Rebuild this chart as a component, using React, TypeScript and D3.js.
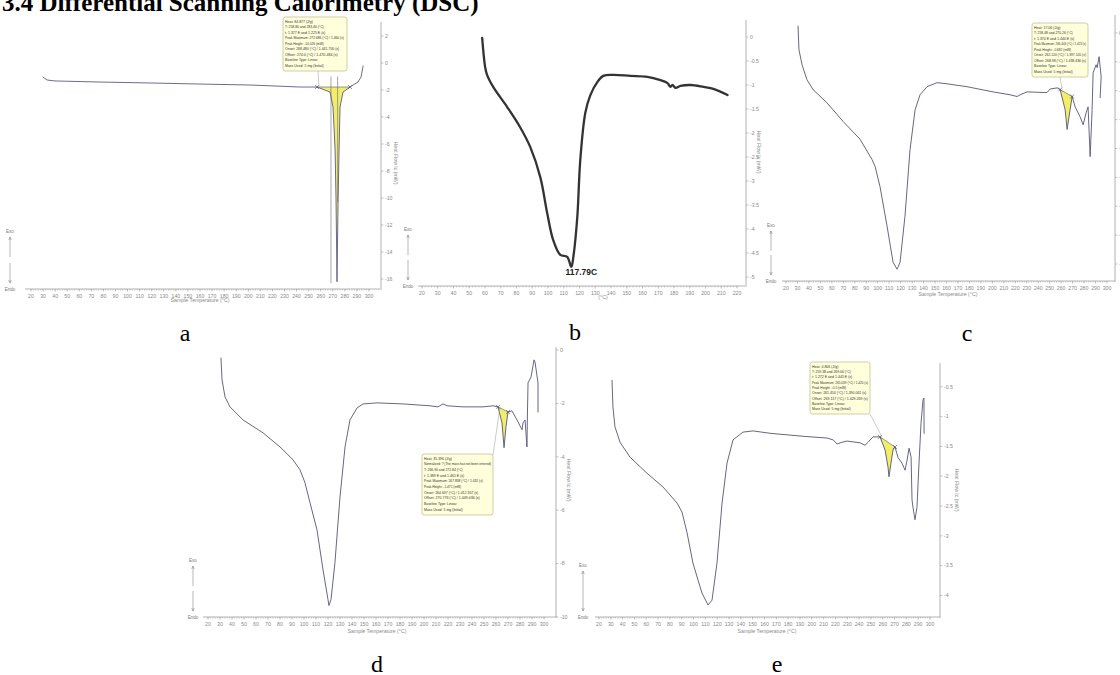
import React from 'react';
import * as d3 from 'd3';

// ---------- tick labels ----------
const xTicks300 = [20, 30, 40, 50, 60, 70, 80, 90, 100, 110, 120, 130, 140, 150, 160, 170, 180, 190, 200, 210, 220, 230, 240, 250, 260, 270, 280, 290, 300];
const xTicks220 = [20, 30, 40, 50, 60, 70, 80, 90, 100, 110, 120, 130, 140, 150, 160, 170, 180, 190, 200, 210, 220];
const yTicksA = [2, 0, -2, -4, -6, -8, -10, -12, -14, -16];
const yTicksB = [0, -0.5, -1, -1.5, -2, -2.5, -3, -3.5, -4, -4.5, -5];
const yTicksC = [0, -0.5, -1, -1.5, -2, -2.5, -3, -3.5, -4];
const yTicksD = [0, -2, -4, -6, -8, -10];
const yTicksE = [-0.5, -1, -1.5, -2, -2.5, -3, -3.5, -4];

// ---------- series (temperature °C, heat flow mW) ----------
const tempA = [29.9, 33.3, 39.9, 77.2, 118.6, 160.0, 201.4, 242.9, 256.9, 267.7, 270.2, 271.9, 272.7, 273.5, 274.4, 275.2, 276.0, 278.5, 284.3, 286.8, 290.9, 293.4, 295.1];
const heatA = [-1.04, -1.26, -1.33, -1.41, -1.48, -1.56, -1.63, -1.78, -1.78, -2.15, -3.26, -6.44, -10.15, -16.2, -10.15, -6.44, -3.26, -2.15, -1.78, -1.63, -1.41, -1.04, -0.22];

const tempB = [58.2, 60.1, 61.3, 65.2, 74.1, 82.3, 88.7, 95.1, 99.5, 103.3, 107.8, 112.2, 114.8, 116.1, 118.6, 120.5, 123.7, 126.9, 131.3, 135.1, 141.5, 152.3, 163.1, 171.4, 175.9, 177.8, 179.0, 181.0, 184.1, 190.5, 198.8, 205.1, 214.0];
const heatB = [-0.02, -0.63, -0.79, -1.04, -1.46, -1.88, -2.29, -2.92, -3.67, -4.23, -4.54, -4.58, -4.79, -4.58, -3.75, -2.56, -1.58, -1.21, -0.94, -0.81, -0.79, -0.81, -0.83, -0.90, -0.96, -1.04, -1.00, -1.06, -1.02, -1.00, -1.04, -1.08, -1.21];

const tempC = [30.5, 31.3, 34.0, 38.3, 43.6, 55.8, 69.7, 84.6, 95.0, 97.7, 102.0, 108.1, 113.4, 116.9, 119.5, 123.8, 128.2, 132.6, 136.9, 143.0, 151.8, 160.5, 177.9, 200.6, 215.5, 221.6, 224.2, 230.3, 244.3, 247.7, 250.4, 256.5, 259.1, 263.5, 265.2, 267.8, 269.6, 272.2, 276.5, 279.2, 281.8, 283.5, 285.3, 287.0, 287.9, 290.5, 291.4, 293.1, 294.9, 294.0];
const heatC = [0.12, -0.29, -0.55, -0.81, -0.98, -1.21, -1.53, -1.84, -2.19, -2.31, -2.66, -3.34, -3.97, -4.09, -3.97, -3.17, -2.02, -1.33, -1.07, -0.93, -0.86, -0.88, -0.93, -1.02, -1.07, -1.10, -1.07, -1.02, -1.03, -1.03, -0.97, -0.95, -0.98, -1.33, -1.67, -1.33, -1.10, -1.28, -1.45, -1.59, -1.38, -1.28, -2.14, -1.33, -0.69, -0.55, -0.60, -0.41, -0.76, -1.12];

const tempD = [30.8, 31.7, 34.2, 38.3, 49.2, 65.8, 80.0, 90.8, 96.7, 100.8, 105.0, 110.8, 115.8, 120.0, 120.8, 122.5, 125.8, 130.0, 134.2, 138.3, 144.2, 149.2, 160.8, 182.5, 205.0, 211.7, 215.8, 219.2, 232.5, 249.2, 257.5, 261.7, 265.0, 266.7, 268.3, 270.0, 273.3, 277.5, 281.7, 282.5, 284.2, 285.8, 286.2, 286.7, 289.2, 291.7, 292.5, 295.0, 295.0];
const heatD = [-0.30, -1.12, -1.76, -2.13, -2.62, -3.10, -3.63, -4.11, -4.49, -4.97, -5.72, -6.73, -8.22, -9.35, -9.57, -9.35, -7.96, -5.50, -3.63, -2.62, -2.17, -2.02, -1.98, -2.02, -2.09, -2.13, -2.02, -2.09, -2.13, -2.13, -2.09, -2.13, -2.73, -3.66, -2.88, -2.32, -2.28, -2.62, -2.99, -2.73, -2.62, -3.63, -2.36, -1.23, -1.01, -0.37, -0.45, -1.23, -2.32];

const tempE = [31.0, 31.8, 33.5, 37.8, 46.2, 60.6, 74.1, 86.0, 90.2, 94.5, 99.5, 107.1, 112.2, 115.6, 119.8, 124.1, 128.3, 133.4, 141.8, 150.3, 164.7, 192.6, 212.9, 218.0, 221.4, 225.6, 229.8, 240.8, 245.0, 247.6, 251.8, 257.7, 262.0, 264.5, 265.3, 267.0, 268.7, 270.4, 273.0, 276.3, 278.9, 280.6, 282.3, 284.0, 284.8, 285.6, 287.3, 289.0, 290.7, 292.4, 294.1, 294.9, 295.0];
const heatE = [-0.39, -0.84, -1.17, -1.43, -1.68, -1.95, -2.18, -2.45, -2.60, -2.95, -3.46, -3.96, -4.16, -4.08, -3.46, -2.45, -1.78, -1.39, -1.26, -1.24, -1.28, -1.33, -1.36, -1.39, -1.46, -1.43, -1.41, -1.44, -1.48, -1.43, -1.34, -1.34, -1.56, -1.85, -2.01, -1.78, -1.56, -1.51, -1.69, -1.78, -1.90, -1.73, -1.53, -1.68, -2.40, -2.52, -2.73, -2.52, -1.78, -1.11, -0.72, -0.69, -1.28];

// ---------- integration windows and annotation texts ----------
const fillA: [number, number] = [256.9, 284.3];
const fillC: [number, number] = [259.1, 269.6];
const fillD: [number, number] = [261.7, 270.0];
const fillE: [number, number] = [257.7, 270.4];

const infoA = ['Heat: 84.877 (J/g)', 'T: 258.80 and 283.40 (°C)', 't: 1.377 E and 1.225 E (s)', 'Peak Maximum: 272.686 (°C) / 1.460 (s)', 'Peak Height: -14.026 (mW)', 'Onset: 268.480 (°C) / 1.441.700 (s)', 'Offset: 274.0 (°C) / 1.470.484 (s)', 'Baseline Type: Linear', 'Mass Used: 5 mg (Initial)'];
const infoC = ['Heat: 17.06 (J/g)', 'T: 258.48 and 270.26 (°C)', 't: 1.374 E and 1.440 E (s)', 'Peak Maximum: 266.403 (°C) / 1.423 (s)', 'Peak Height: -0.681 (mW)', 'Onset: 262.120 (°C) / 1.397.105 (s)', 'Offset: 268.98 (°C) / 1.438.436 (s)', 'Baseline Type: Linear', 'Mass Used: 5 mg (Initial)'];
const infoD = ['Heat: 35.396 (J/g)', 'Normalized: ? (The mass has not been entered)', 'T: 266.90 and 272.84 (°C)', 't: 1.389 E and 1.461 E (s)', 'Peak Maximum: 267.838 (°C) / 1.431 (s)', 'Peak Height: -1.471 (mW)', 'Onset: 264.637 (°C) / 1.412.357 (s)', 'Offset: 270.776 (°C) / 1.449.036 (s)', 'Baseline Type: Linear', 'Mass Used: 5 mg (Initial)'];
const infoE = ['Heat: 4.806 (J/g)', 'T: 259.38 and 269.06 (°C)', 't: 1.272 E and 1.445 E (s)', 'Peak Maximum: 265.039 (°C) / 1.420 (s)', 'Peak Height: -0.5 (mW)', 'Onset: 261.454 (°C) / 1.390.061 (s)', 'Offset: 269.117 (°C) / 1.429.269 (s)', 'Baseline Type: Linear', 'Mass Used: 5 mg (Initial)'];

type Cfg = {
  temp: number[]; heat: number[];
  xTicks: number[]; yTicks: number[];
  xDomain: [number, number]; xRange: [number, number];
  yDomain: [number, number]; yRange: [number, number];
  axisY: number; axisX: [number, number];
  rightX: number; rightY: [number, number];
  yTitle: [number, number];
  xTitle: string; xTitlePos: [number, number];
  exoX: number; exoTop: number;
  fill?: [number, number];
  info?: string[]; box?: [number, number, number, number]; leaderFrom?: [number, number];
  vlines?: { t: number; v0: number; v1: number }[];
  stroke: string; strokeWidth: number; smooth?: boolean;
  peakLabel?: string;
  label: string; labelPos: [number, number];
};

function interp(temp: number[], heat: number[], t: number) {
  for (let i = 0; i < temp.length - 1; i++) {
    const a = temp[i], b = temp[i + 1];
    if ((t >= a && t <= b) || (t <= a && t >= b)) {
      if (b === a) return heat[i];
      return heat[i] + ((heat[i + 1] - heat[i]) * (t - a)) / (b - a);
    }
  }
  return heat[heat.length - 1];
}

const axisCol = '#a0a0a0';
const tickTxt = '#8a8a8a';
const sans = 'Liberation Sans, Arial, sans-serif';

function Panel({ c }: { c: Cfg }) {
  const x = d3.scaleLinear().domain(c.xDomain).range(c.xRange);
  const y = d3.scaleLinear().domain(c.yDomain).range(c.yRange);
  const pts: [number, number][] = c.temp.map((t, i) => [t, c.heat[i]]);
  const line = d3.line<[number, number]>().x(d => x(d[0])).y(d => y(d[1]));
  if (c.smooth) line.curve(d3.curveCatmullRom.alpha(0.5));
  const minor = d3.range(c.xDomain[0], c.xDomain[1] + 0.01, 2);

  let fillPath: string | null = null;
  let endPts: [number, number][] = [];
  if (c.fill) {
    const [t1, t2] = c.fill;
    const h1 = interp(c.temp, c.heat, t1);
    const h2 = interp(c.temp, c.heat, t2);
    const base = (t: number) => h1 + ((h2 - h1) * (t - t1)) / (t2 - t1);
    const inner = pts.filter(p => p[0] > t1 && p[0] < t2);
    const fp: [number, number][] = [[t1, h1], ...inner, [t2, h2]];
    const area = d3.area<[number, number]>()
      .x(d => x(d[0]))
      .y0(d => y(base(d[0])))
      .y1(d => y(Math.min(d[1], base(d[0]))));
    fillPath = area(fp);
    endPts = [[t1, h1], [t2, h2]];
  }

  // minimum of the series for the peak label
  let minIdx = 0;
  c.heat.forEach((h, i) => { if (h < c.heat[minIdx]) minIdx = i; });

  const arrowTopY = c.exoTop + 4;
  return (
    <g>
      {/* x axis */}
      <line x1={c.axisX[0]} x2={c.axisX[1]} y1={c.axisY} y2={c.axisY} stroke={axisCol} strokeWidth={0.8} />
      {minor.map(t => (
        <line key={'m' + t} x1={x(t)} x2={x(t)} y1={c.axisY} y2={c.axisY + 1.5} stroke={axisCol} strokeWidth={0.5} />
      ))}
      {c.xTicks.map(t => (
        <g key={'xt' + t}>
          <line x1={x(t)} x2={x(t)} y1={c.axisY} y2={c.axisY + 2.5} stroke={axisCol} strokeWidth={0.6} />
          <text x={x(t)} y={c.axisY + 8.5} fontSize={5.2} fill={tickTxt} textAnchor="middle" fontFamily={sans}>{t}</text>
        </g>
      ))}
      <text x={c.xTitlePos[0]} y={c.xTitlePos[1]} fontSize={5.2} fill={tickTxt} textAnchor="middle" fontFamily={sans}>{c.xTitle}</text>

      {/* right axis */}
      <line x1={c.rightX} x2={c.rightX} y1={c.rightY[0]} y2={c.rightY[1]} stroke={axisCol} strokeWidth={0.8} />
      {c.yTicks.map(v => (
        <g key={'yt' + v}>
          <line x1={c.rightX} x2={c.rightX + 2.5} y1={y(v)} y2={y(v)} stroke={axisCol} strokeWidth={0.6} />
          <text x={c.rightX + 4} y={y(v) + 1.8} fontSize={5.2} fill={tickTxt} fontFamily={sans}>{String(v)}</text>
        </g>
      ))}
      <text transform={`translate(${c.yTitle[0]},${c.yTitle[1]}) rotate(90)`} fontSize={5.2} fill={tickTxt} textAnchor="middle" fontFamily={sans}>Heat Flow Ic (mW)</text>

      {/* Exo / Endo */}
      <text x={c.exoX} y={c.exoTop} fontSize={4.5} fill="#777" textAnchor="middle" fontFamily={sans}>Exo</text>
      <line x1={c.exoX} x2={c.exoX} y1={arrowTopY} y2={arrowTopY + 20} stroke="#888" strokeWidth={0.6} />
      <path d={`M${c.exoX - 1.3},${arrowTopY + 3} L${c.exoX},${arrowTopY} L${c.exoX + 1.3},${arrowTopY + 3}`} fill="none" stroke="#888" strokeWidth={0.6} />
      <line x1={c.exoX} x2={c.exoX} y1={c.axisY - 26} y2={c.axisY - 6} stroke="#888" strokeWidth={0.6} />
      <path d={`M${c.exoX - 1.3},${c.axisY - 9} L${c.exoX},${c.axisY - 6} L${c.exoX + 1.3},${c.axisY - 9}`} fill="none" stroke="#888" strokeWidth={0.6} />
      <text x={c.exoX} y={c.axisY + 1.5} fontSize={4.5} fill="#777" textAnchor="middle" fontFamily={sans}>Endo</text>

      {/* integration fill */}
      {fillPath && <path d={fillPath} fill="#f2ee6a" stroke="none" />}
      {fillPath && <line x1={x(endPts[0][0])} y1={y(endPts[0][1])} x2={x(endPts[1][0])} y2={y(endPts[1][1])} stroke="#556" strokeWidth={0.6} />}

      {c.vlines && c.vlines.map((v, i) => (
        <line key={'v' + i} x1={x(v.t)} x2={x(v.t)} y1={y(v.v0)} y2={y(v.v1)} stroke="#667" strokeWidth={0.6} />
      ))}

      {/* curve */}
      <path d={line(pts) || ''} fill="none" stroke={c.stroke} strokeWidth={c.strokeWidth} strokeLinejoin="round" strokeLinecap="round" />

      {c.peakLabel && (
        <text x={x(c.temp[minIdx]) + 10} y={y(c.heat[minIdx]) + 8} fontSize={8.5} fontWeight="bold" fill="#222" textAnchor="middle" fontFamily={sans}>{c.peakLabel}</text>
      )}

      {endPts.map((p, i) => (
        <path key={'x' + i} d={`M${x(p[0]) - 2},${y(p[1]) - 2} L${x(p[0]) + 2},${y(p[1]) + 2} M${x(p[0]) - 2},${y(p[1]) + 2} L${x(p[0]) + 2},${y(p[1]) - 2}`} stroke="#444" strokeWidth={0.6} />
      ))}

      {/* info box */}
      {c.info && c.box && (
        <g>
          {c.leaderFrom && endPts.length > 0 && (
            <line x1={c.leaderFrom[0]} y1={c.leaderFrom[1]} x2={x(endPts[0][0]) + 2} y2={y(endPts[0][1])} stroke="#999" strokeWidth={0.5} />
          )}
          <rect x={c.box[0]} y={c.box[1]} width={c.box[2]} height={c.box[3]} rx={2.5} fill="#ffffdc" stroke="#b9b98a" strokeWidth={0.7} />
          {c.info.map((s, i) => (
            <text key={'i' + i} x={c.box[0] + 2} y={c.box[1] + 5.5 + i * ((c.box![3] - 4) / c.info!.length)} fontSize={3.4} fill="#333" fontFamily={sans}
              textLength={Math.min(s.length * 1.55, c.box![2] - 4)} lengthAdjust="spacingAndGlyphs">{s}</text>
          ))}
        </g>
      )}

      {/* panel letter */}
      <text x={c.labelPos[0]} y={c.labelPos[1]} fontSize={24} fill="#000" textAnchor="middle" fontFamily="Liberation Serif, Times New Roman, serif">{c.label}</text>
    </g>
  );
}

const panels: Cfg[] = [
  {
    temp: tempA, heat: heatA, xTicks: xTicks300, yTicks: yTicksA,
    xDomain: [20, 300], xRange: [31, 369], yDomain: [2, -16], yRange: [36, 279],
    axisY: 289, axisX: [25, 380], rightX: 381, rightY: [22, 290], yTitle: [394, 163],
    xTitle: 'Sample Temperature (°C)', xTitlePos: [200, 302], exoX: 10, exoTop: 233,
    fill: fillA, info: infoA, box: [283, 17, 64, 54], leaderFrom: [318, 71],
    vlines: [{ t: 268.5, v0: -1.0, v1: -16.3 }, { t: 274.0, v0: -1.0, v1: -10.3 }],
    stroke: '#5a5a8c', strokeWidth: 0.9, label: 'a', labelPos: [185, 341],
  },
  {
    temp: tempB, heat: heatB, xTicks: xTicks220, yTicks: yTicksB,
    xDomain: [20, 220], xRange: [422, 737], yDomain: [0, -5], yRange: [37, 277],
    axisY: 286, axisX: [418, 745], rightX: 746, rightY: [20, 287], yTitle: [757, 152],
    xTitle: '(°C)', xTitlePos: [603, 299], exoX: 408, exoTop: 231,
    stroke: '#333333', strokeWidth: 2.3, smooth: true, peakLabel: '117.79C', label: 'b', labelPos: [575, 340],
  },
  {
    temp: tempC, heat: heatC, xTicks: xTicks300, yTicks: yTicksC,
    xDomain: [20, 300], xRange: [786, 1107], yDomain: [0, -4], yRange: [33, 264],
    axisY: 281, axisX: [782, 1115], rightX: 1115, rightY: [15, 282], yTitle: [1140, 150],
    xTitle: 'Sample Temperature (°C)', xTitlePos: [948, 296], exoX: 771, exoTop: 227,
    fill: fillC, info: infoC, box: [1032, 23, 56, 54], leaderFrom: [1060, 77],
    stroke: '#55557a', strokeWidth: 0.9, label: 'c', labelPos: [967, 341],
  },
  {
    temp: tempD, heat: heatD, xTicks: xTicks300, yTicks: yTicksD,
    xDomain: [20, 300], xRange: [208, 544], yDomain: [0, -10], yRange: [350, 617],
    axisY: 617, axisX: [203, 556], rightX: 556, rightY: [347, 618], yTitle: [567, 480],
    xTitle: 'Sample Temperature (°C)', xTitlePos: [377, 633], exoX: 193, exoTop: 562,
    fill: fillD, info: infoD, box: [422, 454, 71, 61], leaderFrom: [493, 455],
    stroke: '#55557a', strokeWidth: 0.9, label: 'd', labelPos: [377, 672],
  },
  {
    temp: tempE, heat: heatE, xTicks: xTicks300, yTicks: yTicksE,
    xDomain: [20, 300], xRange: [599, 930], yDomain: [0, -4], yRange: [357, 595.4],
    axisY: 617, axisX: [595, 940], rightX: 940, rightY: [363, 618], yTitle: [955, 490],
    xTitle: 'Sample Temperature (°C)', xTitlePos: [767, 633], exoX: 583, exoTop: 567,
    fill: fillE, info: infoE, box: [810, 362, 60, 52], leaderFrom: [870, 414],
    stroke: '#55557a', strokeWidth: 0.9, label: 'e', labelPos: [777, 672],
  },
];

export default function App() {
  return (
    <svg width={1120} height={675} viewBox="0 0 1120 675" style={{ position: 'absolute', left: 0, top: 0, background: '#fff' }}>
      <rect x={0} y={0} width={1120} height={675} fill="#fff" />
      <text x={2} y={11} fontSize={25} fontWeight="bold" fill="#000" fontFamily="Liberation Serif, Times New Roman, serif">3.4 Differential Scanning Calorimetry (DSC)</text>
      {panels.map((p, i) => <Panel key={i} c={p} />)}
    </svg>
  );
}
